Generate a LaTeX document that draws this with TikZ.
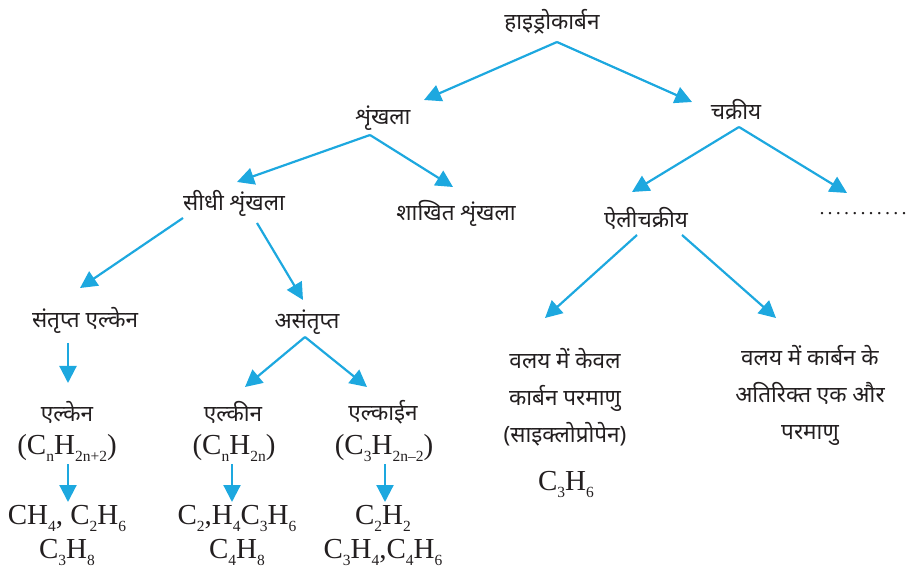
\documentclass[tikz,border=0pt]{standalone}
\usepackage{fontspec}
\setmainfont{Liberation Serif}
\newfontfamily\dev[Script=Devanagari]{Noto Sans}
\usetikzlibrary{arrows.meta}
\definecolor{arrcol}{HTML}{1DA8DF}
\definecolor{txt}{HTML}{231F20}
\newcommand\sbs[1]{\raisebox{-0.24em}{\fontsize{15.5}{15.5}\selectfont #1}}
\newcommand\dk{.\kern3.2pt}
\tikzset{
  hn/.style={inner sep=0pt, text=txt, font=\dev\fontsize{22.5}{37}\selectfont, align=center},
  fm/.style={inner sep=0pt, text=txt, font=\fontsize{29}{34}\selectfont, align=center},
  arr/.style={draw=arrcol, line width=2.2pt, -{Triangle[length=17pt,width=17pt]}}
}
\begin{document}
\begin{tikzpicture}[x=1pt,y=-1pt]
\useasboundingbox (0,0) rectangle (908,569);
\node[hn] (h) at (552,22) {हाइड्रोकार्बन};
\node[hn] (s) at (383,118) {शृंखला};
\node[hn] (c) at (736,110) {चक्रीय};
\node[hn] (ss) at (234,203) {सीधी शृंखला};
\node[hn] (sk) at (456,213) {शाखित शृंखला};
\node[hn] (ali) at (646,218) {ऐलीचक्रीय};
\node[hn] (dots) at (863,214) {\fontsize{20}{20}\selectfont\rmfamily \dk\dk\dk\dk\dk\dk\dk\dk\dk\dk.};
\node[hn] (sat) at (85,320) {संतृप्त एल्केन};
\node[hn] (asat) at (307,322) {असंतृप्त};
\node[hn] (alk) at (67,412) {एल्केन};
\node[hn] (alkn) at (233,412) {एल्कीन};
\node[hn] (alky) at (383,412) {एल्काईन};
\node[fm] (f1) at (67,448) {(C\sbs{n}H\sbs{2n+2})};
\node[fm] (f2) at (234,448) {(C\sbs{n}H\sbs{2n})};
\node[fm] (f3) at (384,448) {(C\sbs{3}H\sbs{2n–2})};
\node[fm] (e1) at (67,535) {CH\sbs{4}, C\sbs{2}H\sbs{6}\\C\sbs{3}H\sbs{8}};
\node[fm] (e2) at (237,535) {C\sbs{2},H\sbs{4}C\sbs{3}H\sbs{6}\\C\sbs{4}H\sbs{8}};
\node[fm] (e3) at (383,535) {C\sbs{2}H\sbs{2}\\C\sbs{3}H\sbs{4},C\sbs{4}H\sbs{6}};
\node[hn] (v1) at (565,397) {वलय में केवल\\कार्बन परमाणु\\(साइक्लोप्रोपेन)};
\node[fm] (v1f) at (566,484) {C\sbs{3}H\sbs{6}};
\node[hn] (v2) at (810,395) {वलय में कार्बन के\\अतिरिक्त एक और\\परमाणु};
% connectors
\draw[arr] ([shift={(5,20)}]h.center) -- ([shift={(41,-18)}]s.center);
\draw[arr] ([shift={(5,20)}]h.center) -- ([shift={(-44,-8)}]c.center);
\draw[arr] ([shift={(-13,17)}]s.center) -- ([shift={(3,-21)}]ss.center);
\draw[arr] ([shift={(-13,17)}]s.center) -- ([shift={(-3,-26)}]sk.center);
\draw[arr] ([shift={(3,17)}]c.center) -- ([shift={(-14,-26)}]ali.center);
\draw[arr] ([shift={(3,17)}]c.center) -- ([shift={(-16,-21)}]dots.center);
\draw[arr] ([shift={(-51,15)}]ss.center) -- ([shift={(-5,-32)}]sat.center);
\draw[arr] ([shift={(23,20)}]ss.center) -- ([shift={(-4,-22)}]asat.center);
\draw[arr] ([shift={(-9,17)}]ali.center) -- ([shift={(-20,-79)}]v1.center);
\draw[arr] ([shift={(36,17)}]ali.center) -- ([shift={(-34,-77)}]v2.center);
\draw[arr] ([shift={(-17,23)}]sat.center) -- ([shift={(1,-29)}]alk.center);
\draw[arr] ([shift={(-2,15)}]asat.center) -- ([shift={(12,-25)}]alkn.center);
\draw[arr] ([shift={(-2,15)}]asat.center) -- ([shift={(-16,-25)}]alky.center);
\draw[arr] ([shift={(1,16)}]f1.center) -- ([shift={(1,-33)}]e1.center);
\draw[arr] ([shift={(-2,16)}]f2.center) -- ([shift={(-5,-33)}]e2.center);
\draw[arr] ([shift={(1,16)}]f3.center) -- ([shift={(2,-33)}]e3.center);
\end{tikzpicture}
\end{document}
